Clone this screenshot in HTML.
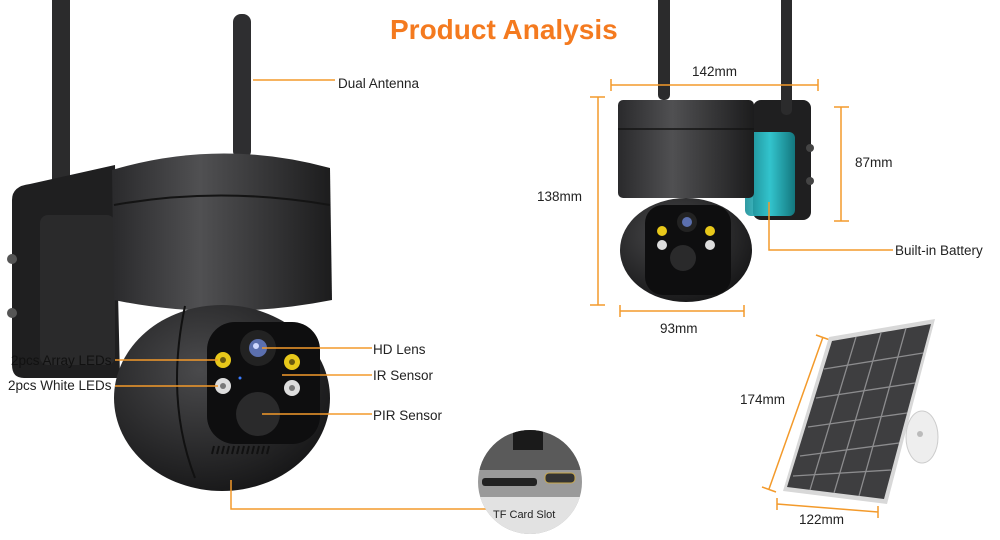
<!DOCTYPE html>
<html><head><meta charset="utf-8"><style>
html,body{margin:0;padding:0;background:#fff;width:1000px;height:540px;overflow:hidden}
svg{display:block}
text{font-family:"Liberation Sans",sans-serif;fill:#222;font-size:13.5px}
</style></head><body>
<svg width="1000" height="540" viewBox="0 0 1000 540" xmlns="http://www.w3.org/2000/svg">
<defs>
<radialGradient id="ball" cx="0.4" cy="0.35" r="0.7"><stop offset="0" stop-color="#4a4a4c"/><stop offset="1" stop-color="#161617"/></radialGradient>
<linearGradient id="cyl" x1="0" x2="1"><stop offset="0" stop-color="#2a2a2c"/><stop offset="0.4" stop-color="#505052"/><stop offset="1" stop-color="#1c1c1d"/></linearGradient>
<linearGradient id="cyan" x1="0" x2="1"><stop offset="0" stop-color="#1a8f98"/><stop offset="0.5" stop-color="#35d6e0"/><stop offset="1" stop-color="#128088"/></linearGradient>
<clipPath id="tfc"><circle cx="530" cy="482" r="52"/></clipPath>
</defs>

<text x="390" y="39" style="font-size:28px;font-weight:bold;fill:#f47a1f">Product Analysis</text>

<!-- LEFT CAMERA -->
<rect x="52" y="-10" width="18" height="215" rx="8" fill="#2b2b2c"/>
<rect x="233" y="14" width="18" height="145" rx="8" fill="#2e2e30"/>
<path d="M12 200 Q12 186 30 184 L115 165 L120 378 L24 378 Q12 378 12 365 Z" fill="#1f1f20"/>
<rect x="40" y="215" width="75" height="150" rx="8" fill="#2a2a2b"/>
<circle cx="12" cy="259" r="5" fill="#555"/><circle cx="12" cy="313" r="5" fill="#555"/>
<path d="M112 170 Q220 138 330 168 L332 300 Q220 322 114 300 Z" fill="url(#cyl)"/>
<path d="M114 205 Q220 186 330 205" stroke="#141414" stroke-width="2" fill="none"/>
<ellipse cx="222" cy="398" rx="108" ry="93" fill="url(#ball)"/>
<path d="M185 306 Q165 400 195 478" stroke="#111" stroke-width="2" fill="none"/>
<rect x="207" y="322" width="113" height="122" rx="28" fill="#0e0e0f"/>
<circle cx="258" cy="348" r="18" fill="#222"/><circle cx="258" cy="348" r="9" fill="#5b6fae"/><circle cx="256" cy="346" r="3" fill="#cfd8ff"/>
<circle cx="223" cy="360" r="8" fill="#e8c81a"/><circle cx="223" cy="360" r="3" fill="#6a5a10"/>
<circle cx="292" cy="362" r="8" fill="#e8c81a"/><circle cx="292" cy="362" r="3" fill="#6a5a10"/>
<circle cx="223" cy="386" r="8" fill="#ddd"/><circle cx="223" cy="386" r="3" fill="#777"/>
<circle cx="292" cy="388" r="8" fill="#ddd"/><circle cx="292" cy="388" r="3" fill="#777"/>
<circle cx="240" cy="378" r="1.5" fill="#3a7cff"/>
<circle cx="258" cy="414" r="22" fill="#2a2a2b"/>
<g stroke="#111" stroke-width="2"><path d="M214 446 l-2 8 M219 446 l-2 8 M224 446 l-2 8 M229 446 l-2 8 M234 446 l-2 8 M239 446 l-2 8 M244 446 l-2 8 M249 446 l-2 8 M254 446 l-2 8 M259 446 l-2 8 M264 446 l-2 8 M269 446 l-2 8"/></g>

<g stroke="#f39a2b" stroke-width="1.5" fill="none">
<path d="M253 80 H335"/>
<path d="M262 348 H372"/>
<path d="M282 375 H372"/>
<path d="M262 414 H372"/>
<path d="M115 360 H218"/>
<path d="M115 386 H218"/>
<path d="M231 480 V509 H486"/>
</g>
<text x="338" y="88">Dual Antenna</text>
<text x="373" y="354">HD Lens</text>
<text x="373" y="380">IR Sensor</text>
<text x="373" y="420">PIR Sensor</text>
<text x="11" y="365" style="fill:#111">2pcs Array LEDs</text>
<text x="8" y="390">2pcs White LEDs</text>

<!-- TF card -->
<g clip-path="url(#tfc)">
<rect x="470" y="420" width="130" height="130" fill="#9a9a9a"/>
<rect x="470" y="430" width="130" height="40" fill="#5a5a5a"/>
<rect x="513" y="425" width="30" height="25" fill="#1a1a1a"/>
<rect x="482" y="478" width="55" height="8" rx="3" fill="#222"/>
<rect x="545" y="473" width="30" height="10" rx="4" fill="#333" stroke="#c9a84c"/>
<rect x="470" y="497" width="130" height="60" fill="#e2e2e2"/>
</g>
<text x="493" y="518" style="font-size:11px">TF Card Slot</text>

<!-- RIGHT CAMERA -->
<rect x="658" y="-10" width="12" height="110" rx="5" fill="#2b2b2c"/>
<rect x="753" y="100" width="58" height="120" rx="8" fill="#1f1f20"/>
<rect x="781" y="-10" width="11" height="125" rx="5" fill="#2b2b2c"/>
<rect x="745" y="132" width="50" height="84" rx="6" fill="url(#cyan)" opacity="0.9"/>
<circle cx="810" cy="148" r="4" fill="#444"/><circle cx="810" cy="181" r="4" fill="#444"/>
<rect x="618" y="100" width="136" height="98" rx="5" fill="url(#cyl)"/>
<path d="M618 129 H754" stroke="#141414" stroke-width="1.5"/>
<ellipse cx="686" cy="250" rx="66" ry="52" fill="url(#ball)"/>
<rect x="645" y="205" width="86" height="90" rx="18" fill="#0e0e0f"/>
<circle cx="687" cy="222" r="10" fill="#222"/><circle cx="687" cy="222" r="5" fill="#5b6fae"/>
<circle cx="662" cy="231" r="5" fill="#e8c81a"/><circle cx="710" cy="231" r="5" fill="#e8c81a"/>
<circle cx="662" cy="245" r="5" fill="#ddd"/><circle cx="710" cy="245" r="5" fill="#ddd"/>
<circle cx="683" cy="258" r="13" fill="#2a2a2b"/>

<g stroke="#f39a2b" stroke-width="1.5" fill="none">
<path d="M611 85 H818 M611 79 V91 M818 79 V91"/>
<path d="M598 97 V305 M590 97 H605 M590 305 H605"/>
<path d="M620 311 H744 M620 305 V317 M744 305 V317"/>
<path d="M841 107 V221 M834 107 H849 M834 221 H849"/>
<path d="M769 202 V250 H893"/>
<path d="M823 337 L769 489 M816 335 L830 340 M762 487 L776 492"/>
<path d="M777 504 L878 512 M777 498 V510 M878 506 V518"/>
</g>
<text x="692" y="76">142mm</text>
<text x="537" y="201">138mm</text>
<text x="660" y="333">93mm</text>
<text x="855" y="167">87mm</text>
<text x="895" y="255">Built-in Battery</text>
<text x="740" y="404">174mm</text>
<text x="799" y="524">122mm</text>

<!-- Solar panel -->
<ellipse cx="922" cy="437" rx="16" ry="26" fill="#eee" stroke="#ccc"/>
<circle cx="920" cy="434" r="3" fill="#bbb"/>
<polygon points="829,337 935,319 887,504 783,491" fill="#d8d8d8"/>
<polygon points="832,341 931,324 884,499 787,487" fill="#3e3e40"/>
<g stroke="#8c8c8e" stroke-width="1.3" fill="none">
<path d="M856 337 L810 490 M881 333 L834 493 M906 328 L859 496"/>
<path d="M824 369 L923 353 M816 398 L915 383 M808 427 L907 413 M800 456 L899 443 M793 476 L891 470"/>
</g>
</svg>
</body></html>
